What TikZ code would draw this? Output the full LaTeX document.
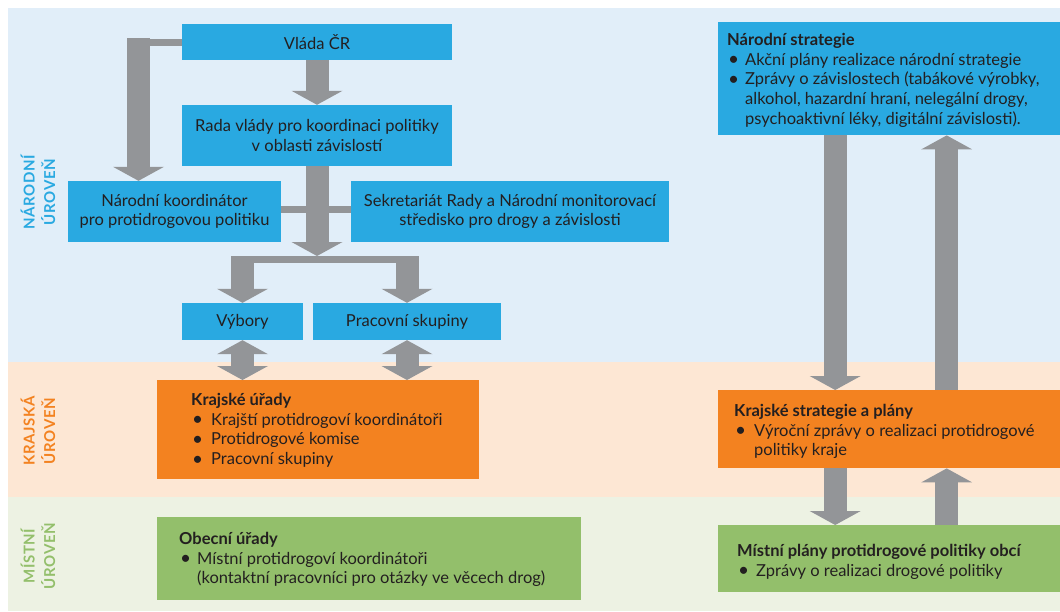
\documentclass[tikz,border=0pt]{standalone}
\usepackage{fontspec}
\setmainfont{Lato}
\usetikzlibrary{arrows.meta}

\definecolor{bandblue}{HTML}{E1EEF9}
\definecolor{bandpeach}{HTML}{FDE7D4}
\definecolor{bandgreen}{HTML}{EDF2E3}
\definecolor{boxblue}{HTML}{29A9E1}
\definecolor{boxorange}{HTML}{F38220}
\definecolor{boxgreen}{HTML}{93BF6B}
\definecolor{arrowgray}{HTML}{939598}
\definecolor{txtdark}{HTML}{231F20}

\begin{document}
\begin{tikzpicture}[x=1pt, y=-1pt,
  bluebox/.style={shape=rectangle, fill=boxblue, inner sep=0pt, text=txtdark, font=\fontsize{16.5}{19.7}\selectfont, align=center},
  orangebox/.style={shape=rectangle, fill=boxorange, inner sep=0pt},
  greenbox/.style={shape=rectangle, fill=boxgreen, inner sep=0pt},
  listtext/.style={anchor=north west, inner sep=0pt, align=left, text=txtdark, font=\fontsize{16.5}{19.7}\selectfont, execute at begin node=\strut},
  levellabel/.style={rotate=90, align=center, font=\fontsize{15}{20.5}\selectfont\bfseries\addfontfeature{LetterSpace=4}},
  bigarrow/.style={draw=arrowgray, line width=23pt, -{Triangle[width=51pt, length=14pt, line width=0pt]}},
  dblarrow/.style={draw=arrowgray, line width=23pt, {Triangle[width=51pt, length=14pt, line width=0pt]}-{Triangle[width=51pt, length=14pt, line width=0pt]}},
  thinbar/.style={draw=arrowgray, line width=7pt},
]
\useasboundingbox (0,0) rectangle (1060,611);

%LEVEL BANDS
\fill[white] (0,0) rectangle (1060,611);
\fill[bandblue] (8,8) rectangle (1060,362);
\fill[bandpeach] (8,362) rectangle (1060,497);
\fill[bandgreen] (8,497) rectangle (1060,611);

\node[levellabel, text=boxblue] (lnar) at (38,192) {NÁRODNÍ\\ÚROVEŇ};
\node[levellabel, text=boxorange] (lkraj) at (38,431) {KRAJSKÁ\\ÚROVEŇ};
\node[levellabel, text=boxgreen] (lmist) at (38,556) {MÍSTNÍ\\ÚROVEŇ};

%NATIONAL LEVEL
\node[bluebox, minimum width=270pt, minimum height=36pt] (vlada) at (317,42) {Vláda ČR};
\node[bluebox, minimum width=270pt, minimum height=61pt] (rada) at (317,135.5) {Rada vlády pro koordinaci politiky\\v oblasti závislostí};
\node[bluebox, minimum width=213pt, minimum height=61pt] (koord) at (174.5,211.5) {Národní koordinátor\\pro protidrogovou politiku};
\node[bluebox, minimum width=318pt, minimum height=61pt] (sekr) at (510,211.5) {Sekretariát Rady a Národní monitorovací\\středisko pro drogy a závislosti};
\node[bluebox, minimum width=121pt, minimum height=37pt] (vybory) at (242.5,321.5) {Výbory};
\node[bluebox, minimum width=188pt, minimum height=37pt] (pracsk) at (407,321.5) {Pracovní skupiny};

\node[bluebox, minimum width=342pt, minimum height=113pt, anchor=north west] (narstrat) at (718,22) {};
\node[listtext] (narstrattxt) at ([shift={(9,11)}]narstrat.north west) {\textbf{Národní strategie}\\
\makebox[18pt][l]{\hspace{1pt}\raisebox{-0.5pt}{\fontsize{19}{0}\selectfont\textbullet}}Akční plány realizace národní strategie\\
\makebox[18pt][l]{\hspace{1pt}\raisebox{-0.5pt}{\fontsize{19}{0}\selectfont\textbullet}}Zprávy o závislostech (tabákové výrobky,\\
\hspace*{18pt}alkohol, hazardní hraní, nelegální drogy,\\
\hspace*{18pt}psychoaktivní léky, digitální závislosti).};

%REGIONAL LEVEL
\node[orangebox, minimum width=322pt, minimum height=99pt, anchor=north west] (krajur) at (157,380) {};
\node[listtext] (krajurtxt) at ([shift={(34,13)}]krajur.north west) {\textbf{Krajské úřady}\\
\makebox[20pt][l]{\hspace{1pt}\raisebox{-0.5pt}{\fontsize{19}{0}\selectfont\textbullet}}Krajští protidrogoví koordinátoři\\
\makebox[20pt][l]{\hspace{1pt}\raisebox{-0.5pt}{\fontsize{19}{0}\selectfont\textbullet}}Protidrogové komise\\
\makebox[20pt][l]{\hspace{1pt}\raisebox{-0.5pt}{\fontsize{19}{0}\selectfont\textbullet}}Pracovní skupiny};

\node[orangebox, minimum width=342pt, minimum height=78pt, anchor=north west] (krajstrat) at (718,390) {};
\node[listtext] (krajstrattxt) at ([shift={(16,14)}]krajstrat.north west) {\textbf{Krajské strategie a plány}\\
\makebox[20pt][l]{\hspace{1pt}\raisebox{-0.5pt}{\fontsize{19}{0}\selectfont\textbullet}}Výroční zprávy o realizaci protidrogové\\
\hspace*{20pt}politiky kraje};

%LOCAL LEVEL
\node[greenbox, minimum width=424pt, minimum height=83pt, anchor=north west] (obecur) at (157,517) {};
\node[listtext] (obecurtxt) at ([shift={(22,15)}]obecur.north west) {\textbf{Obecní úřady}\\
\makebox[18pt][l]{\hspace{1pt}\raisebox{-0.5pt}{\fontsize{19}{0}\selectfont\textbullet}}Místní protidrogoví koordinátoři\\
\hspace*{18pt}(kontaktní pracovníci pro otázky ve věcech drog)};

\node[greenbox, minimum width=342pt, minimum height=67pt, anchor=north west] (mistplan) at (718,525) {};
\node[listtext] (mistplantxt) at ([shift={(19,19)}]mistplan.north west) {\textbf{Místní plány protidrogové politiky obcí}\\
\makebox[19pt][l]{\hspace{1pt}\raisebox{-0.5pt}{\fontsize{19}{0}\selectfont\textbullet}}Zprávy o realizaci drogové politiky};

%ARROWS LEFT
\coordinate (vbend) at (138.5,38);
\coordinate (forkL) at (242.5,256);
\coordinate (forkR) at (407,256);
\draw[thinbar] (vlada.west) -- (vbend |- vlada.west);
\draw[bigarrow] (vbend) -- (vbend |- koord.north);
\draw[bigarrow] (vlada.south) -- (rada.north);
\draw[thinbar] ([yshift=2.5pt]koord.east) -- ([yshift=2.5pt]sekr.west);
\draw[bigarrow] (rada.south) -- (rada.south |- forkL);
\draw[thinbar] ([shift={(-11.5,3.5)}]forkL) -- ([shift={(11.5,3.5)}]forkR);
\draw[bigarrow] (forkL) -- (vybory.north);
\draw[bigarrow] (forkR) -- (pracsk.north);
\draw[dblarrow] (vybory.south) -- (vybory.south |- krajur.north);
\draw[dblarrow] (pracsk.south) -- (pracsk.south |- krajur.north);

%ARROWS RIGHT
\draw[bigarrow] ([xshift=-54pt]narstrat.south) -- ([xshift=-54pt]krajstrat.north);
\draw[bigarrow] ([xshift=57.5pt]krajstrat.north) -- ([xshift=57.5pt]narstrat.south);
\draw[bigarrow] ([xshift=-54pt]krajstrat.south) -- ([xshift=-54pt]mistplan.north);
\draw[bigarrow] ([xshift=57.5pt]mistplan.north) -- ([xshift=57.5pt]krajstrat.south);

\end{tikzpicture}
\end{document}
